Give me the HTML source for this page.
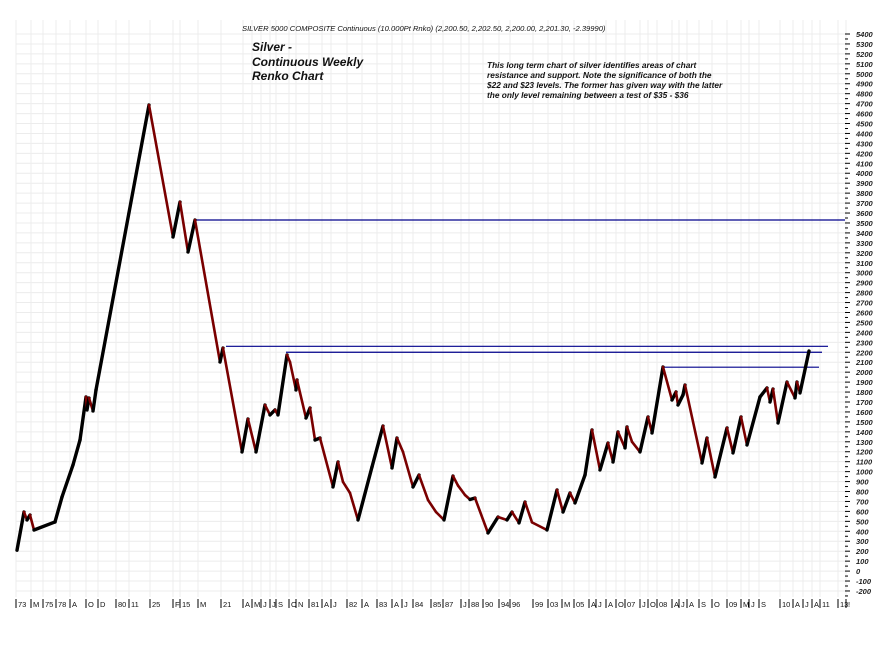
<!DOCTYPE html>
<html><head><meta charset="utf-8"><style>
body{margin:0;background:#fff;width:896px;height:646px;overflow:hidden;font-family:"Liberation Sans",Arial,sans-serif}
svg{position:absolute;left:0;top:0}
</style></head><body>
<svg id="chart" width="896" height="646" xmlns="http://www.w3.org/2000/svg">
<g id="grid"></g>
<g id="hlines"></g>
<g id="series"></g>
<g id="yaxis"></g>
<g id="xaxis"></g>
<text x="242" y="31" font-size="7.6" font-style="italic" fill="#111">SILVER 5000 COMPOSITE Continuous (10.000Pt Rnko)  (2,200.50, 2,202.50, 2,200.00, 2,201.30, -2.39990)</text>
<g font-size="12" font-style="italic" font-weight="bold" fill="#111">
<text x="252" y="51">Silver -</text>
<text x="252" y="66">Continuous Weekly</text>
<text x="252" y="80">Renko Chart</text>
</g>
<g font-size="8.3" font-style="italic" font-weight="bold" fill="#111">
<text x="487" y="68">This long term chart of silver identifies areas of chart</text>
<text x="487" y="78">resistance and support. Note the significance of both the</text>
<text x="487" y="88">$22 and $23 levels. The former has given way with the latter</text>
<text x="487" y="98">the only level remaining between a test of $35 - $36</text>
</g>
</svg>
<script>
// data: week index and renko price (cents)
const weeks=[1,8,11,14,18,39,46,57,64,70,
71,73,77,80,133,157,164,172,179,204,
207,226,232,240,249,254,259,262,271,274,
280,281,290,294,299,304,317,322,327,334,
342,356,367,376,381,387,397,403,412,420,
428,437,442,449,454,459,472,482,491,496,
503,509,516,531,541,547,554,559,569,576,
584,592,597,602,609,611,616,624,632,636,
647,656,660,662,667,669,686,691,699,711,
717,725,731,744,751,754,757,762,771,779,
781,784,793];
const prices=[210,594,514,564,413,494,745,1067,1318,1751,
1620,1740,1610,1821,4686,3359,3711,3208,3530,2102,
2243,1198,1529,1198,1670,1570,1620,1570,2173,2102,
1821,1922,1539,1640,1318,1338,846,1097,896,785,
514,1047,1459,1037,1338,1198,846,966,715,594,
514,956,860,765,720,735,383,544,514,594,
484,695,490,413,816,594,785,685,966,1419,
1017,1288,1097,1399,1238,1449,1300,1198,1550,1389,
2052,1720,1801,1670,1771,1871,1087,1338,946,1439,
1188,1550,1268,1751,1841,1700,1831,1489,1901,1741,
1901,1791,2213];
const levels=[3530,2260,2200,2050];
const levelStart=[179,210,270,648];
const levelEnd=[829,812,806,803];
const yTicks=[];for(let v=5400;v>=-200;v-=100)yTicks.push(v);
const xLabels=["73","M","75","78","A","O","D","80","11","25","F","15","M","21","A","M","J","J","S","O","N","81","A","J","82","A","83","A","J","84","85","87","J","88","90","94","96","99","03","M","05","A","J","A","O","07","J","O","08","A","J","A","S","O","09","M","J","S","10","A","J","A","11","13","!"];
const xLabelWeeks=[0,15,27,40,54,70,82,100,113,134,157,164,182,205,227,236,245,254,260,273,280,293,306,315,331,346,361,376,386,397,415,427,445,453,467,483,494,517,532,546,558,573,580,590,600,609,624,632,641,656,663,671,683,696,711,725,733,743,764,777,787,796,804,822,830];
const NS='http://www.w3.org/2000/svg';
const xS=w=>16+w;
const yS=v=>34+(5400-v)*0.09946;
function mk(tag,attrs,parent){const e=document.createElementNS(NS,tag);for(const k in attrs)e.setAttribute(k,attrs[k]);parent.appendChild(e);return e;}
const grid=document.getElementById('grid'),ya=document.getElementById('yaxis'),xa=document.getElementById('xaxis');
yTicks.forEach(v=>{
  const g=mk('line',{x1:16,x2:845,y1:yS(v),y2:yS(v),stroke:'#ececec','stroke-width':1},grid);
  
  
  const t=mk('line',{x1:845,x2:850,y1:yS(v),y2:yS(v),stroke:'#000','stroke-width':1},ya);
  
  
  const m=mk('line',{x1:845,x2:848,y1:yS(v-50),y2:yS(v-50),stroke:'#000','stroke-width':1},ya);
  
  
  const l=mk('text',{x:856,y:yS(v)+3,'font-size':7.5,'font-style':'italic','font-weight':'bold',fill:'#222'},ya);
  l.textContent=v;
  
  
});
xLabelWeeks.forEach((w,i)=>{
  const g=mk('line',{x1:xS(w),x2:xS(w),y1:20,y2:597,stroke:'#ededed','stroke-width':1},grid);
  
  
  const t=mk('line',{x1:xS(w),x2:xS(w),y1:599,y2:608,stroke:'#000','stroke-width':1},xa);
  
  
  const l=mk('text',{x:xS(w)+2,y:607,'font-size':7.5,fill:'#111'},xa);
  l.textContent=xLabels[i];
  
  
});
const hl=document.getElementById('hlines');
levels.forEach((v,i)=>{
  const l=mk('line',{x1:xS(levelStart[i]),x2:xS(levelEnd[i]),y1:yS(v),y2:yS(v),stroke:'#00008b','stroke-width':1.2},hl);
  
  
});
const s=document.getElementById('series');
for(let i=1;i<prices.length;i++){
  const up=prices[i]>prices[i-1];
  const l=mk('line',{x1:xS(weeks[i-1]),y1:yS(prices[i-1]),x2:xS(weeks[i]),y2:yS(prices[i]),stroke:up?'#000':'#7a0000','stroke-width':up?3.4:2.6,'stroke-linecap':'round'},s);
  
  
}
</script>
</body></html>
